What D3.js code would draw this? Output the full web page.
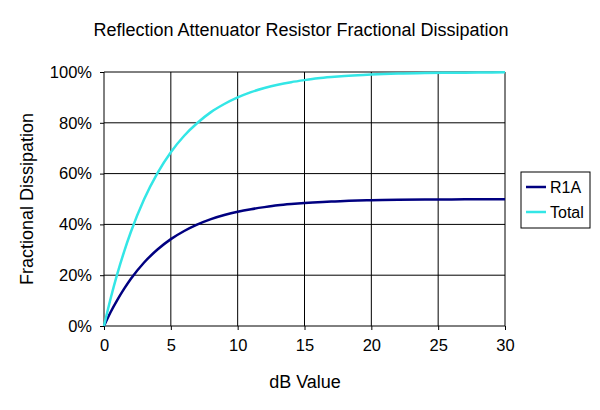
<!DOCTYPE html><html><head><script src="https://cdn.jsdelivr.net/npm/d3@7"></script>
<style>body{margin:0;background:#fff}text{font-family:Arial,"Liberation Sans",sans-serif}</style></head><body>
<svg id="c" width="600" height="410"></svg>
<script>
const dbValues=[0,0.5,1,1.5,2,3,4,5,6,7,8,9,10,11,12,13,14,15,16,17,18,19,20,22,24,26,28,30];
const totalValues=[0,0.109,0.206,0.292,0.369,0.499,0.602,0.684,0.749,0.80,0.842,0.874,0.90,0.921,0.937,0.95,0.96,0.968,0.975,0.98,0.984,0.987,0.99,0.994,0.996,0.997,0.998,0.999];
const r1aValues=[0,0.055,0.103,0.146,0.185,0.25,0.301,0.342,0.374,0.40,0.421,0.437,0.45,0.46,0.468,0.475,0.48,0.484,0.487,0.49,0.492,0.494,0.495,0.497,0.498,0.4985,0.499,0.4995];
const xTicks=[0,5,10,15,20,25,30];
const yTicks=[0,0.2,0.4,0.6,0.8,1];
const seriesNames=["R1A","Total"];
const colors=["#000080","#33e6e6"];
const svg=d3.select("#c");
const x=d3.scaleLinear().domain([0,30]).range([104,505]);
const y=d3.scaleLinear().domain([0,1]).range([326,72]);
const g=svg.append("g");
yTicks.forEach(t=>g.append("line").attr("x1",104).attr("x2",505).attr("y1",y(t)).attr("y2",y(t)).attr("stroke","#000").attr("stroke-width",1));
xTicks.forEach(t=>g.append("line").attr("x1",x(t)).attr("x2",x(t)).attr("y1",72).attr("y2",326).attr("stroke","#000").attr("stroke-width",1));
svg.append("g").attr("transform","translate(0,326)").call(d3.axisBottom(x).tickValues(xTicks).tickSize(4)).call(a=>{a.selectAll("text").attr("font-size",16.5).attr("dy","1.1em").attr("fill","#000");a.select(".domain").remove();});
svg.append("g").attr("transform","translate(104,0)").call(d3.axisLeft(y).tickValues(yTicks).tickFormat(d3.format(".0%")).tickSize(4).tickPadding(8)).call(a=>{a.selectAll("text").attr("font-size",16.5).attr("fill","#000");a.select(".domain").remove();});
const line=d3.line().x((d,i)=>x(dbValues[i])).y(d=>y(d)).curve(d3.curveMonotoneX);
[r1aValues,totalValues].forEach((s,i)=>svg.append("path").attr("d",line(s)).attr("fill","none").attr("stroke",colors[i]).attr("stroke-width",2.5));
svg.append("text").attr("x",301).attr("y",36).attr("text-anchor","middle").attr("font-size",18).text("Reflection Attenuator Resistor Fractional Dissipation");
svg.append("text").attr("x",305).attr("y",388).attr("text-anchor","middle").attr("font-size",18).text("dB Value");
svg.append("text").attr("transform","translate(33,199) rotate(-90)").attr("text-anchor","middle").attr("font-size",18).text("Fractional Dissipation");
const lg=svg.append("g");
lg.append("rect").attr("x",521).attr("y",172).attr("width",69).attr("height",56).attr("fill","#fff").attr("stroke","#000");
seriesNames.forEach((n,i)=>{const yy=187+i*25;
lg.append("line").attr("x1",526).attr("x2",546).attr("y1",yy).attr("y2",yy).attr("stroke",colors[i]).attr("stroke-width",2.5);
lg.append("text").attr("x",550).attr("y",yy+6).attr("font-size",16).text(n);});
</script></body></html>
